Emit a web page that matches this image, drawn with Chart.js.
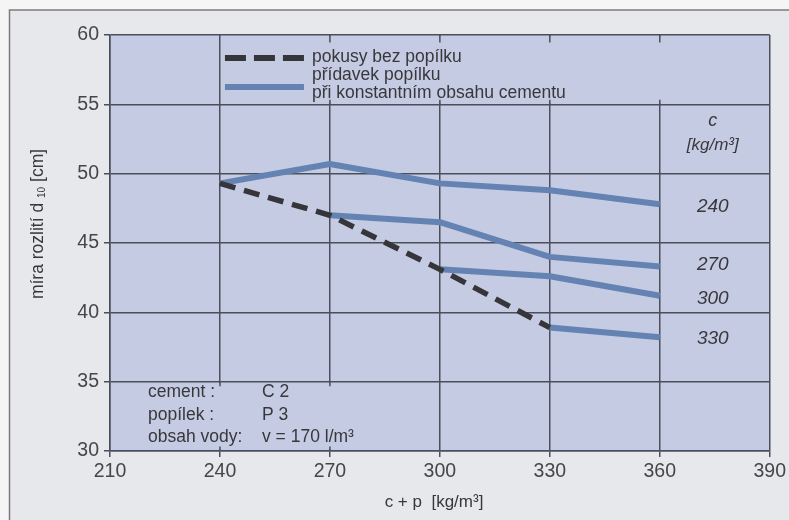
<!DOCTYPE html>
<html>
<head>
<meta charset="utf-8">
<script src="https://cdn.jsdelivr.net/npm/chart.js@4.4.1/dist/chart.umd.min.js"></script>
<style>
  html, body { margin: 0; padding: 0; background: #f4f4f4; }
  #wrap { width: 789px; height: 520px; position: relative; }
</style>
</head>
<body>
<div id="wrap"><canvas id="chart" width="789" height="520"></canvas></div>
<script>
// Axis ticks
const xTicks = [210, 240, 270, 300, 330, 360, 390];
const yTicks = [30, 35, 40, 45, 50, 55, 60];

// Tests without fly ash (dashed line)
const noAshX = [240, 270, 300, 330];
const noAshY = [49.3, 47.0, 43.1, 38.9];

// Fly ash added at constant cement content c [kg/m3]
const c240X = [240, 270, 300, 330, 360];
const c240Y = [49.3, 50.7, 49.3, 48.8, 47.8];
const c270X = [270, 300, 330, 360];
const c270Y = [47.0, 46.5, 44.0, 43.3];
const c300X = [300, 330, 360];
const c300Y = [43.1, 42.6, 41.2];
const c330X = [330, 360];
const c330Y = [38.9, 38.2];

const cementLabels = ['240', '270', '300', '330'];

const legendLines = ['pokusy bez popílku', 'přídavek popílku', 'při konstantním obsahu cementu'];
const noteKeys = ['cement :', 'popílek :', 'obsah vody:'];
const noteVals = ['C 2', 'P 3', 'v = 170 l/m³'];

const FONT = '"Liberation Sans", Arial, sans-serif';
const GRID = '#4b4f5b';
const PLOT_BG = '#c4cbe2';
const BLUE = '#6483b2';
const DARK = '#36363a';
const TEXT = '#38383c';

const pts = (xs, ys) => xs.map((x, i) => ({ x: x, y: ys[i] }));

const blueLine = (label, xs, ys) => ({
  label: label,
  data: pts(xs, ys),
  borderColor: BLUE,
  borderWidth: 6,
  borderCapStyle: 'butt',
  borderJoinStyle: 'round',
  pointRadius: 0,
  showLine: true,
  tension: 0
});

const decor = {
  id: 'decor',
  beforeDraw(chart) {
    const ctx = chart.ctx;
    const a = chart.chartArea;
    ctx.save();
    ctx.fillStyle = '#f5f5f5';
    ctx.fillRect(0, 0, chart.width, chart.height);
    ctx.fillStyle = '#e7e8ec';
    ctx.fillRect(9.5, 10, chart.width, chart.height);
    ctx.strokeStyle = '#7c7c80';
    ctx.lineWidth = 1.5;
    ctx.beginPath();
    ctx.moveTo(9.5, chart.height + 5);
    ctx.lineTo(9.5, 10);
    ctx.lineTo(chart.width + 5, 10);
    ctx.stroke();
    ctx.fillStyle = PLOT_BG;
    ctx.fillRect(a.left, a.top, a.right - a.left, a.bottom - a.top);
    ctx.restore();
  },
  beforeDatasetsDraw(chart) {
    const ctx = chart.ctx;
    const xs = chart.scales.x, ys = chart.scales.y;
    ctx.save();
    ctx.fillStyle = PLOT_BG;
    // panel behind the legend
    const lx0 = xs.getPixelForValue(240) + 1.5;
    const lx1 = xs.getPixelForValue(390) - 1.5;
    const ly0 = ys.getPixelForValue(60) + 1.5;
    const ly1 = ys.getPixelForValue(55) - 1.5;
    ctx.fillRect(lx0, ly0, lx1 - lx0, ly1 - ly0);
    // panel behind the mix notes
    const nx0 = xs.getPixelForValue(210) + 1.5;
    const nx1 = xs.getPixelForValue(300) - 2;
    const ny0 = ys.getPixelForValue(35) + 1.5;
    const ny1 = ys.getPixelForValue(30) - 1.5;
    ctx.fillRect(nx0, ny0, nx1 - nx0, ny1 - ny0);
    // short inner ticks left on the covered grid lines
    ctx.strokeStyle = GRID;
    ctx.lineWidth = 1.5;
    ctx.beginPath();
    [270, 300, 330, 360].forEach(v => {
      const px = xs.getPixelForValue(v);
      ctx.moveTo(px, ly0 - 1); ctx.lineTo(px, ly0 + 6);
      ctx.moveTo(px, ly1 + 1); ctx.lineTo(px, ly1 - 3);
    });
    [240, 270].forEach(v => {
      const px = xs.getPixelForValue(v);
      ctx.moveTo(px, ny0 - 1); ctx.lineTo(px, ny0 + 3);
      ctx.moveTo(px, ny1 + 1); ctx.lineTo(px, ny1 - 3);
    });
    ctx.stroke();
    ctx.restore();
  },
  afterDatasetsDraw(chart) {
    const ctx = chart.ctx;
    const xs = chart.scales.x, ys = chart.scales.y;
    ctx.save();

    // legend
    const sx0 = xs.getPixelForValue(240) + 5;
    const sx1 = sx0 + 79;
    ctx.lineWidth = 6;
    ctx.lineCap = 'butt';
    ctx.strokeStyle = DARK;
    ctx.setLineDash([21, 8]);
    ctx.beginPath(); ctx.moveTo(sx0, 58); ctx.lineTo(sx1, 58); ctx.stroke();
    ctx.setLineDash([]);
    ctx.strokeStyle = BLUE;
    ctx.beginPath(); ctx.moveTo(sx0, 87); ctx.lineTo(sx1, 87); ctx.stroke();

    ctx.fillStyle = TEXT;
    ctx.font = '17.5px ' + FONT;
    ctx.textAlign = 'left';
    ctx.textBaseline = 'middle';
    const ly = [57, 75, 93];
    legendLines.forEach((t, i) => ctx.fillText(t, sx1 + 8, ly[i]));

    // cement content labels at the line ends
    const lblX = xs.getPixelForValue(375) - 2;
    ctx.textAlign = 'center';
    ctx.font = 'italic 18px ' + FONT;
    ctx.fillText('c', lblX, 121);
    ctx.font = 'italic 17px ' + FONT;
    ctx.fillText('[kg/m³]', lblX, 145);
    const ends = [c240Y, c270Y, c300Y, c330Y].map(s => s[s.length - 1]);
    const nudge = [3, -2, 3, 1];
    ctx.font = 'italic 19px ' + FONT;
    cementLabels.forEach((t, i) => {
      ctx.fillText(t, lblX, ys.getPixelForValue(ends[i]) + nudge[i]);
    });

    // mix notes
    ctx.textAlign = 'left';
    ctx.font = '17.5px ' + FONT;
    const ny = [392, 415, 437];
    noteKeys.forEach((t, i) => ctx.fillText(t, 148, ny[i]));
    noteVals.forEach((t, i) => ctx.fillText(t, 262, ny[i]));

    // axis titles
    ctx.fillStyle = TEXT;
    ctx.font = '17px ' + FONT;
    ctx.textAlign = 'center';
    ctx.fillText('c + p  [kg/m³]', 434, 502);

    ctx.translate(38, 224);
    ctx.rotate(-Math.PI / 2);
    const p1 = 'míra rozlití d', p2 = '10', p3 = ' [cm]';
    ctx.font = '17.5px ' + FONT;
    const w1 = ctx.measureText(p1 + ' ').width;
    const w3 = ctx.measureText(p3).width;
    ctx.font = '10px ' + FONT;
    const w2 = ctx.measureText(p2).width;
    const total = w1 + w2 + w3;
    let x = -total / 2;
    ctx.textAlign = 'left';
    ctx.font = '17.5px ' + FONT;
    ctx.fillText(p1, x, 0);
    x += w1;
    ctx.font = '10px ' + FONT;
    ctx.fillText(p2, x, 4);
    x += w2;
    ctx.font = '17.5px ' + FONT;
    ctx.fillText(p3, x, 0);
    ctx.restore();
  }
};

new Chart(document.getElementById('chart'), {
  type: 'scatter',
  data: {
    datasets: [
      {
        label: legendLines[0],
        data: pts(noAshX, noAshY),
        borderColor: DARK,
        borderWidth: 5.5,
        borderDash: [16, 9],
        borderCapStyle: 'butt',
        pointRadius: 0,
        showLine: true,
        tension: 0
      },
      blueLine('c = 240', c240X, c240Y),
      blueLine('c = 270', c270X, c270Y),
      blueLine('c = 300', c300X, c300Y),
      blueLine('c = 330', c330X, c330Y)
    ]
  },
  options: {
    responsive: false,
    animation: false,
    devicePixelRatio: 1,
    layout: { padding: { top: 35, right: 17, left: 0, bottom: 0 } },
    plugins: {
      legend: { display: false },
      tooltip: { enabled: false }
    },
    scales: {
      x: {
        type: 'linear',
        min: 210,
        max: 390,
        afterBuildTicks: s => { s.ticks = xTicks.map(v => ({ value: v })); },
        afterFit: s => { s.height = 69; },
        grid: { color: GRID, lineWidth: 1.5, tickLength: 6, drawOnChartArea: true },
        border: { color: GRID, width: 1.5 },
        ticks: { color: '#46464a', font: { family: FONT, size: 19.5 }, padding: 3, maxRotation: 0 }
      },
      y: {
        type: 'linear',
        min: 30,
        max: 60,
        afterBuildTicks: s => { s.ticks = yTicks.map(v => ({ value: v })); },
        afterFit: s => { s.width = 110; },
        grid: { color: GRID, lineWidth: 1.5, tickLength: 6 },
        border: { color: GRID, width: 1.5 },
        ticks: { color: '#46464a', font: { family: FONT, size: 19.5 }, padding: 5 }
      }
    }
  },
  plugins: [decor]
});
</script>
</body>
</html>
